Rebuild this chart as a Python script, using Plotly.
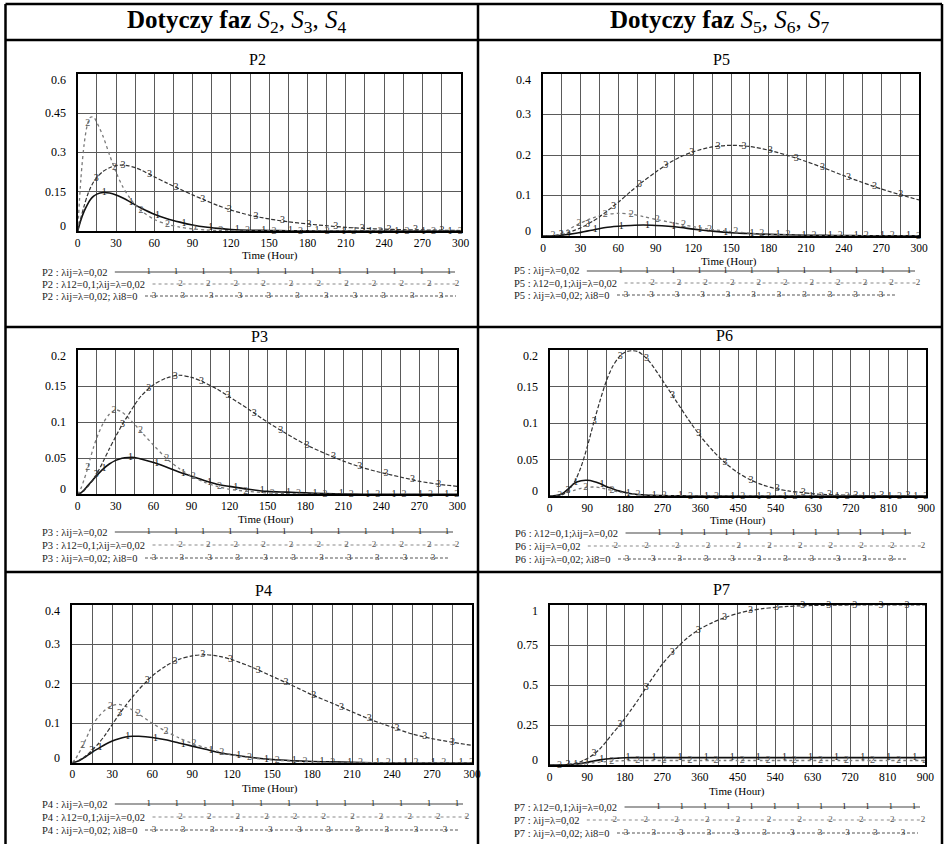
import numpy as np
import plotly.graph_objects as go

W, H = 946, 844
FONT = "Liberation Serif"

# ---------------- data ----------------
T_A = [0, 2.5, 5, 7.5, 10, 12.5, 15, 20, 25, 30, 35, 40, 45, 50, 60, 70, 80, 90, 100,
       110, 120, 135, 150, 165, 180, 195, 210, 225, 240, 255, 270, 285, 300]
T_B = [0, 15, 30, 45, 60, 75, 90, 105, 120, 135, 150, 165, 180, 195, 210, 225, 240,
       270, 300, 330, 360, 390, 420, 450, 480, 510, 540, 570, 600, 630, 660, 690, 720,
       750, 780, 810, 840, 870, 900]

P2_s1 = [0, 0.042, 0.075, 0.1, 0.12, 0.133, 0.141, 0.147, 0.145, 0.138, 0.127, 0.114, 0.1,
         0.087, 0.064, 0.047, 0.034, 0.023, 0.015, 0.01, 0.006, 0.003, 0.002, 0.001, 0.0005,
         0, 0, 0, 0, 0, 0, 0, 0]
P2_s2 = [0, 0.2, 0.33, 0.405, 0.435, 0.435, 0.415, 0.36, 0.29, 0.225, 0.172, 0.132, 0.1,
         0.076, 0.044, 0.026, 0.015, 0.008, 0.004, 0.002, 0.001, 0, 0, 0, 0,
         0, 0, 0, 0, 0, 0, 0, 0]
P2_s3 = [0, 0.05, 0.095, 0.135, 0.165, 0.188, 0.205, 0.228, 0.242, 0.25, 0.252, 0.249, 0.242,
         0.232, 0.207, 0.183, 0.16, 0.138, 0.117, 0.097, 0.08, 0.06, 0.046, 0.035, 0.027,
         0.02, 0.014, 0.01, 0.007, 0.005, 0.004, 0.003, 0.002]

P3_s1 = [0, 0.002, 0.006, 0.011, 0.016, 0.021, 0.026, 0.035, 0.042, 0.047, 0.05, 0.051, 0.051,
         0.049, 0.044, 0.038, 0.031, 0.025, 0.019, 0.014, 0.011, 0.007, 0.004, 0.003, 0.002,
         0.001, 0.0005, 0, 0, 0, 0, 0, 0]
P3_s2 = [0, 0.008, 0.02, 0.034, 0.05, 0.065, 0.078, 0.098, 0.111, 0.117, 0.114, 0.106, 0.097,
         0.087, 0.068, 0.05, 0.036, 0.025, 0.017, 0.011, 0.007, 0.004, 0.002, 0.001, 0.0005,
         0, 0, 0, 0, 0, 0, 0, 0]
P3_s3 = [0, 0.002, 0.005, 0.01, 0.015, 0.021, 0.028, 0.045, 0.063, 0.08, 0.096, 0.11, 0.124,
         0.136, 0.152, 0.161, 0.165, 0.162, 0.155, 0.146, 0.135, 0.118, 0.1, 0.084, 0.069,
         0.057, 0.046, 0.037, 0.03, 0.024, 0.018, 0.014, 0.011]

P4_s1 = [0, 0.002, 0.005, 0.01, 0.015, 0.021, 0.027, 0.037, 0.047, 0.055, 0.061, 0.065, 0.067,
         0.067, 0.064, 0.058, 0.05, 0.042, 0.034, 0.026, 0.02, 0.013, 0.008, 0.005, 0.003,
         0.002, 0.001, 0, 0, 0, 0, 0, 0]
P4_s2 = [0, 0.01, 0.025, 0.04, 0.058, 0.077, 0.095, 0.118, 0.135, 0.145, 0.148, 0.143, 0.134,
         0.123, 0.1, 0.08, 0.063, 0.049, 0.038, 0.028, 0.02, 0.012, 0.007, 0.004, 0.002,
         0.001, 0, 0, 0, 0, 0, 0, 0]
P4_s3 = [0, 0.002, 0.006, 0.011, 0.017, 0.024, 0.032, 0.05, 0.072, 0.097, 0.122, 0.145, 0.166,
         0.186, 0.22, 0.245, 0.262, 0.271, 0.274, 0.27, 0.261, 0.242, 0.219, 0.196, 0.172,
         0.151, 0.129, 0.108, 0.09, 0.073, 0.061, 0.052, 0.044]

P5_s1 = [0, 0, 0, 0.0003, 0.0006, 0.001, 0.002, 0.004, 0.006, 0.009, 0.012, 0.015, 0.018,
         0.021, 0.024, 0.026, 0.027, 0.026, 0.024, 0.021, 0.017, 0.012, 0.008, 0.006, 0.004,
         0.003, 0.002, 0.0015, 0.001, 0.0008, 0.0006, 0.0005, 0.0004]
P5_s2 = [0, 0, 0.0005, 0.001, 0.002, 0.004, 0.007, 0.015, 0.024, 0.032, 0.039, 0.045, 0.05,
         0.053, 0.056, 0.054, 0.048, 0.041, 0.035, 0.029, 0.023, 0.016, 0.011, 0.007, 0.004,
         0.003, 0.002, 0.001, 0.001, 0.0005, 0.0005, 0, 0]
P5_s3 = [0, 0, 0, 0.0005, 0.001, 0.002, 0.003, 0.008, 0.014, 0.02, 0.028, 0.037, 0.047,
         0.059, 0.083, 0.11, 0.135, 0.158, 0.179, 0.196, 0.208, 0.22, 0.224, 0.221, 0.212,
         0.199, 0.184, 0.167, 0.149, 0.132, 0.116, 0.102, 0.089]

P6_s1 = [0, 0.0005, 0.003, 0.01, 0.018, 0.021, 0.0215, 0.02, 0.017, 0.013, 0.01, 0.007, 0.005,
         0.003, 0.002, 0.0015, 0.001, 0.0005, 0.0003, 0, 0, 0, 0, 0, 0, 0, 0, 0, 0, 0,
         0, 0, 0, 0, 0, 0, 0, 0, 0]
P6_s2 = [0, 0.0003, 0.002, 0.005, 0.008, 0.0105, 0.012, 0.0123, 0.0115, 0.0095, 0.0075, 0.0055,
         0.004, 0.003, 0.002, 0.0015, 0.001, 0.0005, 0.0003, 0, 0, 0, 0, 0, 0, 0, 0, 0, 0, 0,
         0, 0, 0, 0, 0, 0, 0, 0, 0]
P6_s3 = [0, 0, 0.002, 0.008, 0.02, 0.04, 0.068, 0.1, 0.13, 0.157, 0.177, 0.19, 0.197, 0.199,
         0.198, 0.192, 0.183, 0.158, 0.132, 0.106, 0.082, 0.062, 0.045, 0.032, 0.022, 0.015,
         0.01, 0.007, 0.005, 0.003, 0.002, 0.0015, 0.001, 0.0007, 0.0005, 0.0004, 0.0003,
         0.0002, 0.0001]

P7_s1 = [0, 0, 0.001, 0.002, 0.005, 0.01, 0.017, 0.025, 0.032, 0.037, 0.041, 0.043, 0.045,
         0.046, 0.046, 0.046, 0.046, 0.046, 0.046, 0.046, 0.046, 0.046, 0.046, 0.046, 0.046,
         0.046, 0.046, 0.046, 0.046, 0.046, 0.046, 0.046, 0.046, 0.046, 0.046, 0.046, 0.046,
         0.046, 0.046]
P7_s2 = [0, 0, 0, 0.001, 0.003, 0.006, 0.01, 0.014, 0.018, 0.021, 0.024, 0.026, 0.027,
         0.028, 0.028, 0.028, 0.028, 0.028, 0.028, 0.028, 0.028, 0.028, 0.028, 0.028, 0.028,
         0.028, 0.028, 0.028, 0.028, 0.028, 0.028, 0.028, 0.028, 0.028, 0.028, 0.028, 0.028,
         0.028, 0.028]
P7_s3 = [0, 0, 0.001, 0.004, 0.01, 0.022, 0.04, 0.066, 0.1, 0.145, 0.195, 0.24, 0.29, 0.345,
         0.4, 0.46, 0.52, 0.63, 0.72, 0.795, 0.85, 0.89, 0.922, 0.947, 0.965, 0.977, 0.985,
         0.991, 0.995, 0.997, 0.998, 0.999, 1, 1, 1, 1, 1, 1, 1]

LEG_P2 = ["P2 : λij=λ=0,02", "P2 : λ12=0,1;λij=λ=0,02", "P2 : λij=λ=0,02; λi8=0"]
LEG_P3 = ["P3 : λij=λ=0,02", "P3 : λ12=0,1;λij=λ=0,02", "P3 : λij=λ=0,02; λi8=0"]
LEG_P4 = ["P4 : λij=λ=0,02", "P4 : λ12=0,1;λij=λ=0,02", "P4 : λij=λ=0,02; λi8=0"]
LEG_P5 = ["P5 : λij=λ=0,02", "P5 : λ12=0,1;λij=λ=0,02", "P5 : λij=λ=0,02; λi8=0"]
LEG_P6 = ["P6 : λ12=0,1;λij=λ=0,02", "P6 : λij=λ=0,02", "P6 : λij=λ=0,02; λi8=0"]
LEG_P7 = ["P7 : λ12=0,1;λij=λ=0,02", "P7 : λij=λ=0,02", "P7 : λij=λ=0,02; λi8=0"]

YT_P2 = [0, 0.15, 0.3, 0.45, 0.6]
YL_P2 = ["0", "0.15", "0.3", "0.45", "0.6"]
YT_P3 = [0, 0.05, 0.1, 0.15, 0.2]
YL_P3 = ["0", "0.05", "0.1", "0.15", "0.2"]
YT_P4 = [0, 0.1, 0.2, 0.3, 0.4]
YL_P4 = ["0", "0.1", "0.2", "0.3", "0.4"]
YT_P5 = [0, 0.1, 0.2, 0.3, 0.4]
YL_P5 = ["0", "0.1", "0.2", "0.3", "0.4"]
YT_P6 = [0, 0.05, 0.1, 0.15, 0.2]
YL_P6 = ["0", "0.05", "0.1", "0.15", "0.2"]
YT_P7 = [0, 0.25, 0.5, 0.75, 1]
YL_P7 = ["0", "0.25", "0.5", "0.75", "1"]

HEAD_L = "<b>Dotyczy faz</b> <i>S</i><sub>2</sub>, <i>S</i><sub>3</sub>, <i>S</i><sub>4</sub>"
HEAD_R = "<b>Dotyczy faz</b> <i>S</i><sub>5</sub>, <i>S</i><sub>6</sub>, <i>S</i><sub>7</sub>"
X_TITLE = "Time (Hour)"

# ---------------- layout / styling ----------------
panels = [
    dict(name="P2", t=T_A, ser=[P2_s1, P2_s2, P2_s3], leg=LEG_P2, yt=YT_P2, yl=YL_P2,
         xmax=300, xdtick=30, xminor=15, box=(77.7, 460.7, 74, 231), title=(257, 60), xlab=(270, 255),
         legx=40, legy=(272, 284, 296), legend_end=(455, 457, 456)),
    dict(name="P5", t=T_A, ser=[P5_s1, P5_s2, P5_s3], leg=LEG_P5, yt=YT_P5, yl=YL_P5,
         xmax=300, xdtick=30, xminor=15, box=(543, 919, 74, 236), title=(721, 60), xlab=(729, 261),
         legx=512, legy=(271, 283, 295), legend_end=(915, 918, 896)),
    dict(name="P3", t=T_A, ser=[P3_s1, P3_s2, P3_s3], leg=LEG_P3, yt=YT_P3, yl=YL_P3,
         xmax=300, xdtick=30, xminor=15, box=(77.7, 457.3, 350, 494.3), title=(259, 336), xlab=(266, 519),
         legx=40, legy=(532, 545, 558), legend_end=(453, 457, 448)),
    dict(name="P6", t=T_B, ser=[P6_s1, P6_s2, P6_s3], leg=LEG_P6, yt=YT_P6, yl=YL_P6,
         xmax=900, xdtick=90, xminor=45, box=(549.7, 926.3, 350, 496), title=(724, 335), xlab=(738, 520),
         legx=513, legy=(533, 546, 559), legend_end=(911, 923, 906)),
    dict(name="P4", t=T_A, ser=[P4_s1, P4_s2, P4_s3], leg=LEG_P4, yt=YT_P4, yl=YL_P4,
         xmax=300, xdtick=30, xminor=15, box=(72.3, 472, 605, 762.7), title=(263, 590), xlab=(270, 788),
         legx=40, legy=(804, 817, 830), legend_end=(463, 467, 460)),
    dict(name="P7", t=T_B, ser=[P7_s1, P7_s2, P7_s3], leg=LEG_P7, yt=YT_P7, yl=YL_P7,
         xmax=900, xdtick=90, xminor=45, box=(549.7, 925.3, 605, 765), title=(721, 589), xlab=(737, 791),
         legx=512, legy=(807, 820, 833), legend_end=(920, 923, 918)),
]

LINE_STYLES = [
    dict(color="#111111", width=1.6, dash="solid"),
    dict(color="#7a7a7a", width=1.3, dash="dot"),
    dict(color="#333333", width=1.2, dash="4px,2px"),
]
MARK_COLORS = ["#1a1a1a", "#555555", "#2a2a2a"]
LEG_LINE_STYLES = [
    dict(color="#444444", width=1.1, dash="solid"),
    dict(color="#8a8a8a", width=1.1, dash="dot"),
    dict(color="#555555", width=1.1, dash="3px,2px"),
]
GRID = "#5a5a5a"

CHAR_W = {'P': 556, ' ': 250, ':': 278, 'λ': 500, 'i': 278, 'j': 278, '=': 564,
          ',': 250, ';': 278, '.': 250}
LEG_SIZE = 10.5


def text_width(s, size):
    return sum(CHAR_W.get(c, 500) for c in s) * size / 1000.0


def px(x):
    return x / W


def py(y):
    return 1 - y / H


fig = go.Figure()
layout = dict(
    width=W, height=H, margin=dict(l=0, r=0, t=0, b=0, autoexpand=False),
    paper_bgcolor="white", plot_bgcolor="rgba(0,0,0,0)", showlegend=False,
    font=dict(family=FONT, color="black"),
)
annotations = []
shapes = []

for i, p in enumerate(panels, start=1):
    xa = "x" if i == 1 else f"x{i}"
    ya = "y" if i == 1 else f"y{i}"
    xkey = "xaxis" if i == 1 else f"xaxis{i}"
    ykey = "yaxis" if i == 1 else f"yaxis{i}"
    x0, x1, y0, y1 = p["box"]
    ymax = p["yt"][-1]
    layout[xkey] = dict(
        domain=[px(x0), px(x1)], anchor=ya, range=[0, p["xmax"]],
        tickmode="linear", tick0=0, dtick=p["xdtick"],
        tickfont=dict(family=FONT, size=11.5, color="black"), ticks="",
        showgrid=True, gridcolor=GRID, gridwidth=1.1,
        minor=dict(tickmode="linear", tick0=0, dtick=p["xminor"], showgrid=True,
                   gridcolor=GRID, gridwidth=1.1, ticks=""),
        showline=True, mirror=True, linecolor="black", linewidth=1.6, zeroline=False,
    )
    layout[ykey] = dict(
        domain=[py(y1), py(y0)], anchor=xa, range=[0, ymax],
        tickmode="linear", tick0=0, dtick=p["yt"][1], showticklabels=False, ticks="",
        showgrid=True, gridcolor=GRID, gridwidth=1.1,
        showline=True, mirror=True, linecolor="black", linewidth=1.6, zeroline=False,
    )
    # y tick labels
    for v, lab in zip(p["yt"], p["yl"]):
        ys = -6 if v == ymax else (5 if v == 0 else 0)
        annotations.append(dict(
            xref=f"{xa} domain", x=0, xanchor="right", xshift=-10,
            yref=ya, y=v, yanchor="middle", yshift=ys, showarrow=False,
            text=lab, font=dict(family=FONT, size=12, color="black")))
    # title
    annotations.append(dict(xref="paper", yref="paper", x=px(p["title"][0]), y=py(p["title"][1]),
                            xanchor="center", yanchor="middle", showarrow=False, text=p["name"],
                            font=dict(family=FONT, size=16, color="black")))
    annotations.append(dict(xref="paper", yref="paper", x=px(p["xlab"][0]), y=py(p["xlab"][1]),
                            xanchor="center", yanchor="middle", showarrow=False, text=X_TITLE,
                            font=dict(family=FONT, size=11, color="black")))
    # curves
    T = np.array(p["t"], dtype=float)
    step = p["xmax"] / 14.4
    offsets = [1.0 * step, 0.38 * step, 0.7 * step]
    for k, s in enumerate(p["ser"]):
        V = np.array(s, dtype=float)
        fig.add_trace(go.Scatter(x=T, y=V, mode="lines", xaxis=xa, yaxis=ya,
                                 line=dict(shape="spline", smoothing=0.8, **LINE_STYLES[k]),
                                 hoverinfo="skip"))
        mt = np.arange(offsets[k], p["xmax"], step)
        mv = np.interp(mt, T, V)
        fig.add_trace(go.Scatter(x=mt, y=mv, mode="text", xaxis=xa, yaxis=ya,
                                 text=[str(k + 1)] * len(mt), textposition="middle center",
                                 textfont=dict(family=FONT, size=10, color=MARK_COLORS[k]),
                                 cliponaxis=False, hoverinfo="skip"))
    # legend rows
    for k in range(3):
        lx = p["legx"]
        ly = p["legy"][k]
        annotations.append(dict(xref="paper", yref="paper", x=px(lx), y=py(ly), xanchor="left",
                                yanchor="middle", showarrow=False, text=p["leg"][k],
                                font=dict(family=FONT, size=LEG_SIZE, color="#222")))
        start = lx + text_width(p["leg"][k], LEG_SIZE) + 9
        end = p["legend_end"][k]
        if k == 0:
            marks = np.linspace(start + 34, end - 6, 12)
        elif k == 1:
            marks = np.linspace(start + 28, end, 11)
        else:
            marks = np.linspace(start + 9, end - 15, 11)
        fig.add_trace(go.Scatter(x=[start, end], y=[ly, ly], mode="lines", xaxis="x7", yaxis="y7",
                                 line=LEG_LINE_STYLES[k], hoverinfo="skip"))
        fig.add_trace(go.Scatter(x=marks, y=[ly] * len(marks), mode="text", xaxis="x7", yaxis="y7",
                                 text=[str(k + 1)] * len(marks), textposition="middle center",
                                 textfont=dict(family=FONT, size=9, color=MARK_COLORS[k]),
                                 cliponaxis=False, hoverinfo="skip"))

layout["xaxis7"] = dict(domain=[0, 1], range=[0, W], visible=False, anchor="y7", fixedrange=True)
layout["yaxis7"] = dict(domain=[0, 1], range=[H, 0], visible=False, anchor="x7", fixedrange=True)

# header texts
annotations.append(dict(xref="paper", yref="paper", x=px(237), y=py(22), xanchor="center",
                        yanchor="middle", showarrow=False, text=HEAD_L,
                        font=dict(family=FONT, size=25, color="black")))
annotations.append(dict(xref="paper", yref="paper", x=px(720), y=py(22), xanchor="center",
                        yanchor="middle", showarrow=False, text=HEAD_R,
                        font=dict(family=FONT, size=25, color="black")))

# table borders
BL = dict(color="black", width=2.5)
for (xa_, ya_, xb_, yb_) in [(5.5, 4, 942, 4), (5.5, 40, 942, 40), (5.5, 327, 942, 327),
                             (5.5, 572, 942, 572), (5.5, 4, 5.5, H), (478, 4, 478, H),
                             (942, 4, 942, H)]:
    shapes.append(dict(type="line", xref="paper", yref="paper", x0=px(xa_), y0=py(ya_),
                       x1=px(xb_), y1=py(yb_), line=BL, layer="above"))

layout["annotations"] = annotations
layout["shapes"] = shapes
fig.update_layout(**layout)
fig.write_html("out.html", config={"displayModeBar": False},
               post_script="document.body.style.margin='0px';document.body.style.overflow='hidden';")
